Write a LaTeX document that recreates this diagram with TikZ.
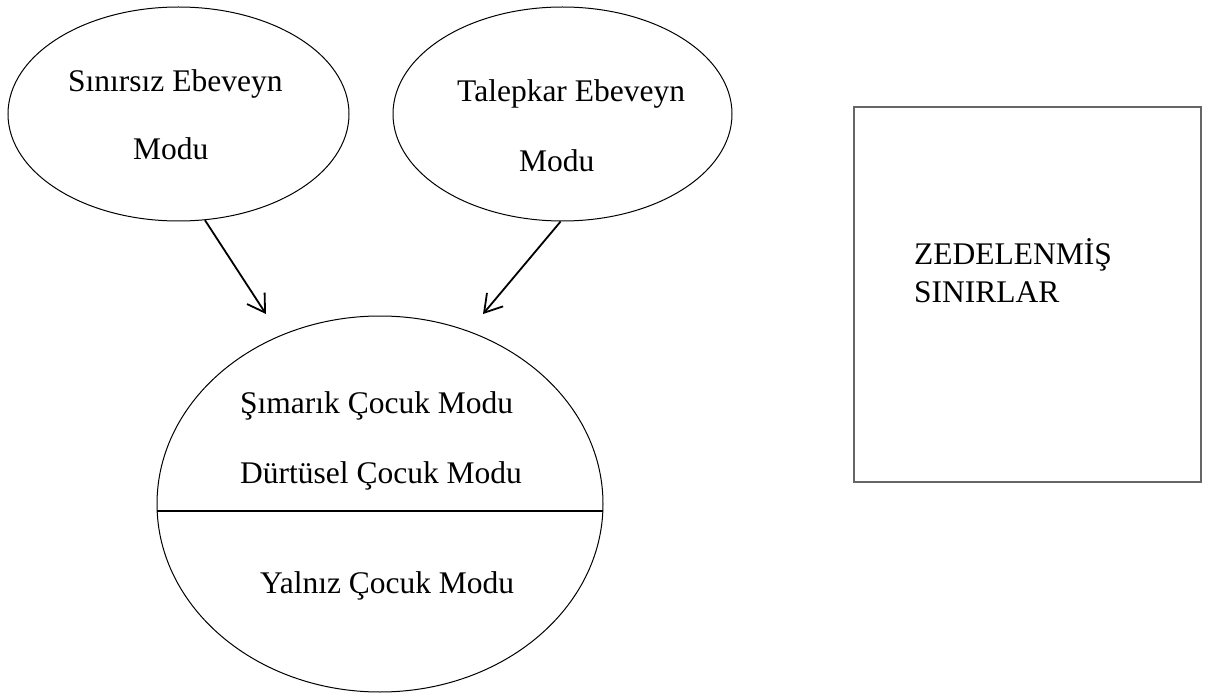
\documentclass[tikz,border=0pt]{standalone}
\usepackage{fontspec}
\setmainfont{Liberation Serif}
\usetikzlibrary{shapes.geometric,arrows.meta,calc}
\tikzset{
  oval/.style={ellipse,draw,line width=1pt,inner sep=0pt},
  lbl/.style={anchor=base west,inner sep=0pt,font=\fontsize{31.5}{37}\selectfont},
  conn/.style={line width=1.8pt,-{Straight Barb[length=17pt,width=21pt,line width=1.8pt]}},
  framebox/.style={draw=black!60,line width=1.2pt,inner sep=0pt}
}
\begin{document}
\begin{tikzpicture}[x=1pt,y=-1pt]
\useasboundingbox (0,0) rectangle (1205,695);
% ellipses
\node[oval,minimum width=341pt,minimum height=214pt] (e1) at (178.5,114) {};
\node[oval,minimum width=339pt,minimum height=214pt] (e2) at (562.5,114) {};
\node[oval,minimum width=446pt,minimum height=376pt] (big) at (380,504) {};
\node[framebox,minimum width=347pt,minimum height=375pt] (box) at (1027.5,294.5) {};
% texts
\node[lbl] (t1a) at (68,92) {Sınırsız Ebeveyn};
\node[lbl] (t1b) at (133,160) {Modu};
\node[lbl] (t2a) at (457,102) {Talepkar Ebeveyn};
\node[lbl] (t2b) at (519,172) {Modu};
\node[lbl] (c1) at (240,413) {Şımarık Çocuk Modu};
\node[lbl] (c2) at (240,483) {Dürtüsel Çocuk Modu};
\node[lbl] (c3) at (260,593) {Yalnız Çocuk Modu};
\node[lbl] (z1) at (914,265) {ZEDELENMİŞ};
\node[lbl] (z2) at (914,302) {SINIRLAR};
% divider
\coordinate (dl) at ($(big.center)+(-222.8,7)$);
\coordinate (dr) at ($(big.center)+(222.8,7)$);
\draw[line width=1.8pt] (dl) -- (dr);
% arrows
\coordinate (a1) at (266,314);
\coordinate (a2) at (483,314);
\draw[conn] (e1.-76) -- (a1);
\draw[conn] (e2.-91) -- (a2);
\end{tikzpicture}
\end{document}
